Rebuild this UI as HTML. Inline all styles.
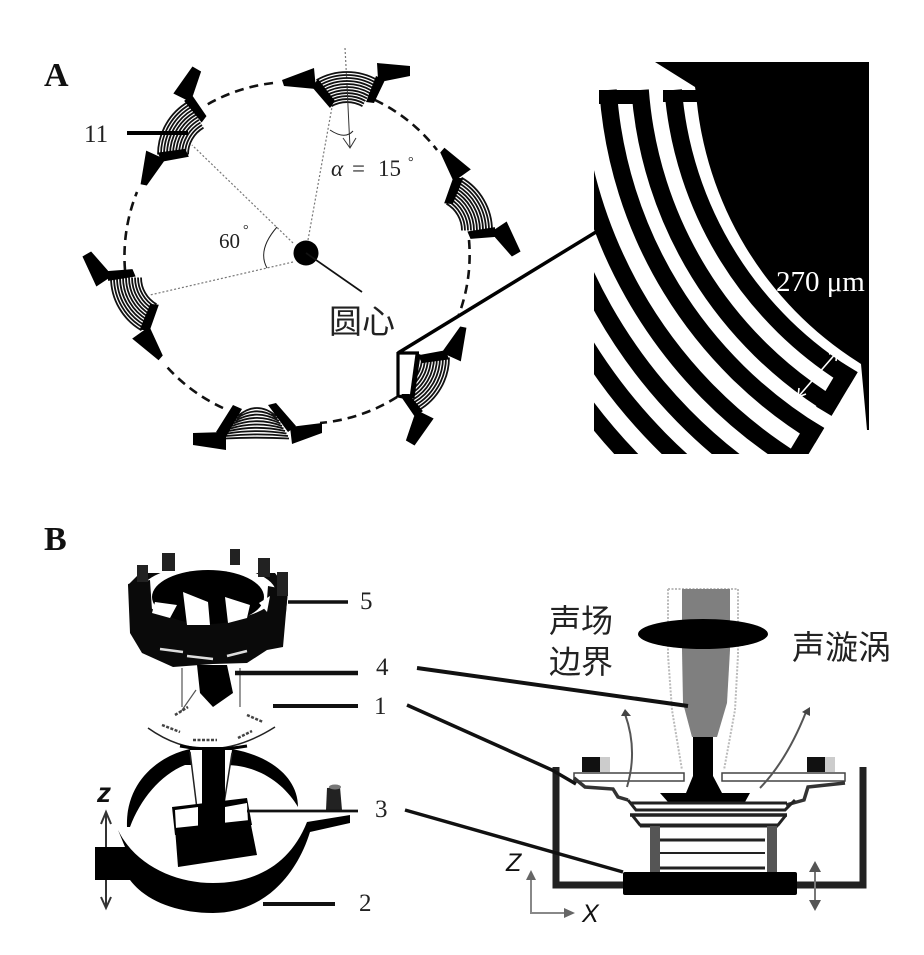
<!DOCTYPE html>
<html><head><meta charset="utf-8"><style>
html,body{margin:0;padding:0;background:#fff}
svg{display:block}
text{font-family:"Liberation Serif","Noto Serif CJK SC",serif;fill:#222}
.cjk{font-family:"Liberation Sans","Noto Sans CJK SC",sans-serif;fill:#222}
.sans{font-family:"Liberation Sans",sans-serif;font-style:italic;fill:#111}
</style></head><body>
<svg width="924" height="955" viewBox="0 0 924 955" xmlns="http://www.w3.org/2000/svg">
<defs>
<g id="td">
<path d="M-15.500 18.200A31 31 0 0 1 15.500 18.200M-17 15.600A34 34 0 0 1 17 15.600M-18.500 13A37 37 0 0 1 18.500 13M-20 10.400A40 40 0 0 1 20 10.400M-21.500 7.800A43 43 0 0 1 21.500 7.800M-23 5.200A46 46 0 0 1 23 5.200M-24.500 2.600A49 49 0 0 1 24.500 2.600M-26 0A52 52 0 0 1 26 0M-27.500 -2.600A55 55 0 0 1 27.500 -2.600M-29 -5.200A58 58 0 0 1 29 -5.200M-30.500 -7.800A61 61 0 0 1 30.500 -7.800" fill="none" stroke="#111" stroke-width="1.800"/>
<path d="M-35 -1L-29 -9L-12 13L-17 20Z M29 -12L38 -8L27 15L19 14Z" fill="#000"/>
<path d="M-65 -8L-33 -20L-31 1L-63 -2Z M30 -25L63 -22L63 -12L38 -7L31 -9Z" fill="#000"/>
</g>
<clipPath id="ins"><rect x="594" y="60" width="276" height="394"/></clipPath>
</defs>

<!-- Panel A -->
<text x="44" y="86" font-size="34" font-weight="bold" style="fill:#111">A</text>
<g fill="none" stroke="#111" stroke-width="2.600" stroke-dasharray="9 6">
<path d="M273 83A172 172 0 0 0 203 107"/>
<path d="M375 100A172 172 0 0 1 437 150"/>
<path d="M469 240A172 172 0 0 1 458 317"/>
<path d="M397 397A172 172 0 0 1 320 423"/>
<path d="M223 408A172 172 0 0 1 167 367"/>
<path d="M125 270A172 172 0 0 1 137 192"/>
</g>
<g stroke="#777" stroke-width="1.200" stroke-dasharray="2 2" fill="none">
<path d="M308 240L332 107M293 243L192 145M293 262L150 295"/>
<path d="M345 48L347 85"/>
</g>
<use href="#td" transform="translate(347,88)"/>
<use href="#td" transform="translate(470,208) rotate(60)"/>
<use href="#td" transform="translate(427,380) rotate(120)"/>
<use href="#td" transform="translate(133,300) rotate(240)"/>
<use href="#td" transform="translate(180,132) rotate(300)"/>
<!-- bottom transducer -->
<g fill="none" stroke="#111" stroke-width="1.800">
<path d="M238 416Q257 400 276 416M236.500 418.500Q257 404.100 277.500 418.500M235 421Q257 408.200 279 421M233.500 423.500Q257 412.300 280.500 423.500M232 426Q257 416.400 282 426M230.500 428.500Q257 420.500 283.500 428.500M229 431Q257 424.600 285 431M227.500 433.500Q257 428.700 286.500 433.500M226 436Q257 432.800 288 436M225 438.500Q257 436.900 289 438.500"/>
</g>
<path d="M233 405L242 409L226 437L216 432Z M268 405L276 403L296 426L288 432Z" fill="#000"/>
<path d="M193 433L226 432L226 450L193 445Z M290 427L322 423L322 433L292 444Z" fill="#000"/>

<path d="M127 133H188" stroke="#000" stroke-width="4"/>
<text x="84" y="142" font-size="25">11</text>
<path d="M277 227Q257 250 267 268" fill="none" stroke="#222" stroke-width="1"/>
<path d="M330 130Q345 140 353 131" fill="none" stroke="#222" stroke-width="1"/>
<path d="M347 85L350 148M343 138L350 148L356 138" fill="none" stroke="#333" stroke-width="1"/>
<circle cx="306" cy="253" r="12.500" fill="#000"/>
<path d="M306 253L362 292" stroke="#111" stroke-width="1.700"/>
<text x="219" y="248" font-size="21">60</text>
<text x="243" y="234" font-size="14">°</text>
<text x="331" y="176" font-size="23" font-style="italic">α</text>
<text x="352" y="176" font-size="23">=</text>
<text x="378" y="176" font-size="23">15</text>
<text x="408" y="166" font-size="14">°</text>
<text x="329" y="333" class="cjk" font-size="33">圆心</text>

<!-- leader to inset -->
<path d="M596 232L398 353" stroke="#000" stroke-width="3.500"/>
<path d="M400 355H417L412 394H400Z" fill="#fff"/>
<path d="M398 352V396L408 398M398 353H419" fill="none" stroke="#000" stroke-width="3.200"/>
<path d="M418 354L412 398" fill="none" stroke="#000" stroke-width="5"/>

<!-- Inset -->
<g clip-path="url(#ins)">
<path d="M655 62H869V430H867L861 364L858 362A352 352 0 0 1 696 93L695 87Z" fill="#000"/>
<path d="M663 90H697V102H663ZM599 90H648V104H599Z" fill="#000"/>
<g fill="none" stroke="#000" stroke-width="17.500">
<path d="M673.200 90A373 373 0 0 0 853.100 379.800"/>
<path d="M640.100 90A406 406 0 0 0 836.100 408.100"/>
<path d="M608 90A438 438 0 0 0 819.600 435.600"/>
<path d="M572 60A473 473 0 0 0 801.600 465.600"/>
<path d="M538 60A507 507 0 0 0 784 495"/>
<path d="M504 60A541 541 0 0 0 767 524"/>
<path d="M470 60A575 575 0 0 0 749 553"/>
</g>
<path d="M857.700 372.100L831.500 415.900L816.100 406.600L842.300 362.800Z M824.300 427.900L797 473.300L781.600 464L808.900 418.600Z" fill="#000"/>
</g>
<g stroke="#fff" stroke-width="1.600" fill="none">
<path d="M837 352L798 397M829 354L837 352L836 361M799 388L798 397L806 394"/>
</g>
<text x="776" y="291" font-size="29" style="fill:#fff">270 μm</text>

<!-- Panel B -->
<text x="44" y="550" font-size="34" font-weight="bold" style="fill:#111">B</text>

<!-- module top -->
<path d="M128 585L130 633L142 653L173 667L213 664L247 663L267 650L283 647L288 590L275 573L140 573Z" fill="#0a0a0a"/>
<ellipse cx="208" cy="593" rx="68" ry="28" fill="#fff"/>
<path d="M128 584L150 580L152 610L132 612Z M288 590L268 586L266 612L286 612Z" fill="#0a0a0a"/>
<ellipse cx="208" cy="597" rx="56" ry="27" fill="#000"/>
<path d="M183 592L208 602L210 625L187 625Z M225 597L250 605L247 618L228 623Z M155 602L177 605L170 618L152 613Z M259 603L270 596L267 612Z" fill="#fff"/>
<rect x="162" y="553" width="13" height="18" fill="#222"/>
<rect x="230" y="549" width="10" height="16" fill="#222"/>
<rect x="258" y="558" width="12" height="19" fill="#222"/>
<rect x="277" y="572" width="11" height="24" fill="#222"/>
<rect x="137" y="565" width="11" height="17" fill="#222"/>
<path d="M160 649L183 652M187 656L213 659M227 656L247 651" stroke="#ddd" stroke-width="2.500" fill="none"/>
<path d="M197 665L227 665L233 693L213 707L200 693Z" fill="#000"/>
<path d="M182 668V707M240 668V707M196 690L180 713" stroke="#555" stroke-width="1.200" fill="none"/>
<path d="M148 728Q207 770 275 727" fill="none" stroke="#222" stroke-width="1.500"/>
<path d="M180 746Q212 752 247 746" fill="none" stroke="#000" stroke-width="3"/>
<g stroke="#444" stroke-width="2.500" stroke-dasharray="3 1.500" fill="none">
<path d="M162 725L180 732M247 715L263 722M238 738L252 731M193 740L217 740M175 715L188 707"/>
</g>

<!-- module bottom -->
<path d="M127 827C125 775 170 747 208 747C255 747 298 770 298 807C285 785 260 765 225 765H185C160 775 140 800 130 827Z" fill="#000"/>
<path d="M190 750H232L223 812H198Z" fill="#fff"/>
<path d="M190 752L198 817M232 753L223 810" stroke="#222" stroke-width="1.500" fill="none"/>
<path d="M172 807L247 798L252 825L175 835Z" fill="#000"/>
<path d="M175 810L198 807V827L176 828Z M225 807L247 803L248 822L225 824Z" fill="#fff"/>
<path d="M175 828L250 820L257 855L178 867Z" fill="#000"/>
<rect x="202" y="747" width="23" height="85" fill="#000"/>
<path d="M106 812V908M101 824L106 812L111 824M101 897L106 908L111 897" fill="none" stroke="#333" stroke-width="2"/>
<path d="M118 830C135 865 175 883 213 883C255 883 290 865 307 822L350 815V823L310 832C295 880 260 913 213 913C175 913 145 900 130 880H95V847H125Z" fill="#000"/>
<path d="M327 788L340 787L342 810H326Z" fill="#222"/>
<ellipse cx="335" cy="787" rx="6" ry="2.500" fill="#777"/>
<text x="97" y="802" class="sans" font-size="28" font-weight="bold">z</text>

<g stroke="#111" fill="none">
<path d="M288 602H348" stroke-width="3.500"/>
<path d="M235 673H358" stroke-width="4.500"/>
<path d="M273 706H358" stroke-width="4"/>
<path d="M247 811H358" stroke-width="2.800"/>
<path d="M263 904H335" stroke-width="4"/>
</g>
<text x="360" y="609" font-size="25">5</text>
<text x="376" y="675" font-size="25">4</text>
<text x="374" y="714" font-size="25">1</text>
<text x="375" y="817" font-size="25">3</text>
<text x="359" y="911" font-size="25">2</text>

<!-- Right schematic -->
<g fill="none" stroke="#bbb" stroke-width="2" stroke-dasharray="2 1.500">
<path d="M668 589V655L672 710L682 770M738 589V655L735 710L724 770M668 589H738"/>
</g>
<path d="M682 589H730V650L727 703L717 737H692L683 703L682 650Z" fill="#7f7f7f"/>
<ellipse cx="703" cy="634" rx="65" ry="15" fill="#000"/>
<path d="M693 737H713V776L722 793H686L693 776Z" fill="#000"/>
<!-- plate -->
<path d="M574 773H684V781H574ZM722 773H845V781H722Z" fill="#fff" stroke="#444" stroke-width="1.500"/>
<path d="M574 778L585 787L613 789L618 797L628 800M845 783L808 787L804 800L786 805" fill="none" stroke="#333" stroke-width="3.500"/>
<rect x="582" y="757" width="18" height="15" fill="#111"/>
<rect x="600" y="757" width="10" height="15" fill="#ccc"/>
<rect x="807" y="757" width="18" height="15" fill="#111"/>
<rect x="825" y="757" width="10" height="15" fill="#ccc"/>
<path d="M660 793H750L745 802H668Z" fill="#000"/>
<path d="M628 800L636 810H785L795 800" fill="none" stroke="#222" stroke-width="3"/>
<g fill="none" stroke="#222">
<path d="M630 803H787" stroke-width="3"/>
<path d="M630 815H787" stroke-width="3.500"/>
<path d="M632 815L640 825H778L786 815" stroke-width="3"/>
<path d="M640 826H778" stroke-width="3"/>
<path d="M660 840H765" stroke-width="3"/>
<path d="M660 853H765" stroke-width="2"/>
<path d="M660 868H765" stroke-width="3"/>
</g>
<rect x="650" y="826" width="10" height="46" fill="#555"/>
<rect x="767" y="826" width="10" height="46" fill="#555"/>
<path d="M556 767V885H625M797 885H863V767" fill="none" stroke="#222" stroke-width="7"/>
<rect x="623" y="872" width="174" height="23" rx="2" fill="#000"/>
<path d="M627 787Q638 750 625 714" fill="none" stroke="#555" stroke-width="2"/>
<path d="M760 788Q787 760 806 712" fill="none" stroke="#555" stroke-width="2"/>
<path d="M621 716L625 709L631 716Z M802 712L810 707L810 716Z" fill="#444"/>
<path d="M815 870V905" stroke="#777" stroke-width="2"/>
<path d="M809 872L815 861L821 872Z M809 900L815 911L821 900Z" fill="#555"/>
<path d="M531 876V913H567" fill="none" stroke="#888" stroke-width="2"/>
<path d="M526 880L531 870L536 880Z M564 908L575 913L564 918Z" fill="#666"/>

<g stroke="#111" fill="none">
<path d="M417 668L688 706" stroke-width="4"/>
<path d="M407 705L552 770L576 784" stroke-width="3.500"/>
<path d="M405 810L623 872" stroke-width="3.500"/>
</g>
<text x="506" y="871" class="sans" font-size="25">Z</text>
<text x="582" y="922" class="sans" font-size="25">X</text>
<text x="549" y="632" class="cjk" font-size="32">声场</text>
<text x="549" y="673" class="cjk" font-size="32">边界</text>
<text x="792" y="659" class="cjk" font-size="33">声漩涡</text>
</svg>
</body></html>
